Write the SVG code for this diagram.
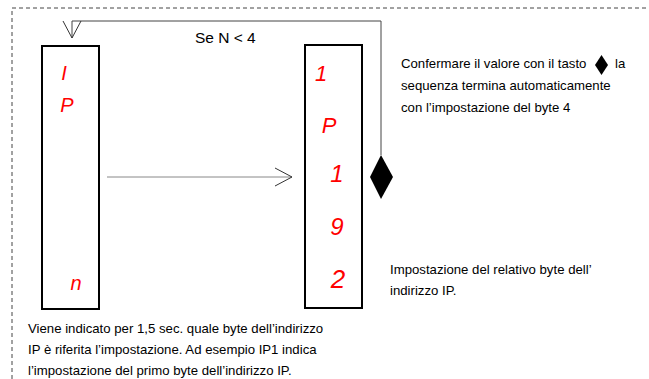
<svg xmlns="http://www.w3.org/2000/svg" width="649" height="379" viewBox="0 0 649 379">
<style>
.box{fill:#fff;stroke:#000;stroke-width:2}
.seg{font-family:"Liberation Sans",Arial,sans-serif;font-style:italic;fill:#ff0000;text-anchor:middle}
.t{font-family:"Liberation Sans",Arial,sans-serif;font-size:13.2px;fill:#000}
.big{font-size:15.5px}
.line{fill:none;stroke:#444;stroke-width:1}
</style>
<defs>
<marker id="open" viewBox="0 0 20 20" refX="18" refY="10" markerWidth="20" markerHeight="20" markerUnits="userSpaceOnUse" orient="auto">
<path d="M1,1 L18,10 L1,19" fill="none" stroke="#333" stroke-width="1"/>
</marker>
</defs>
<path d="M12,379 V8 H649" fill="none" stroke="#444" stroke-width="1" stroke-dasharray="4,3"/>
<g id="connectors">
<path class="line" d="M381,155 V21 H72 V38" marker-end="url(#open)"/>
<line x1="107" y1="177" x2="292" y2="177" stroke="#888" stroke-width="1" marker-end="url(#open)"/>
</g>
<g id="display-left">
<rect class="box" x="42" y="46" width="57" height="263"/>
<text class="seg" x="64" y="80" font-size="20">I</text>
<text class="seg" x="67" y="112" font-size="20">P</text>
<text class="seg" x="76" y="290" font-size="20">n</text>
</g>
<g id="display-right">
<rect class="box" x="305" y="45" width="57" height="263"/>
<text class="seg" x="321" y="81" font-size="22">1</text>
<text class="seg" x="329" y="133" font-size="22">P</text>
<text class="seg" x="337" y="182" font-size="24">1</text>
<text class="seg" x="337" y="235" font-size="24">9</text>
<text class="seg" x="338" y="288" font-size="26">2</text>
</g>
<g id="key">
<polygon points="381,155 393,177 381,199 370,177" fill="#000"/>
</g>
<g id="loop-label">
<text class="t big" x="195" y="43">Se N &lt; 4</text>
</g>
<g id="note-confirm">
<text class="t" x="401" y="68">Confermare il valore con il tasto</text>
<polygon points="601.5,55 608,65 601.5,75 595,65" fill="#000"/>
<text class="t" x="615" y="68">la</text>
<text class="t" x="401" y="90">sequenza termina automaticamente</text>
<text class="t" x="401" y="112">con l’impostazione del byte 4</text>
</g>
<g id="note-byte">
<text class="t" x="390" y="274">Impostazione del relativo byte dell’</text>
<text class="t" x="390" y="295">indirizzo IP.</text>
</g>
<g id="note-index">
<text class="t" x="28" y="333">Viene indicato per 1,5 sec. quale byte dell’indirizzo</text>
<text class="t" x="28" y="354">IP è riferita l’impostazione. Ad esempio IP1 indica</text>
<text class="t" x="28" y="375">l’impostazione del primo byte dell’indirizzo IP.</text>
</g>
</svg>
